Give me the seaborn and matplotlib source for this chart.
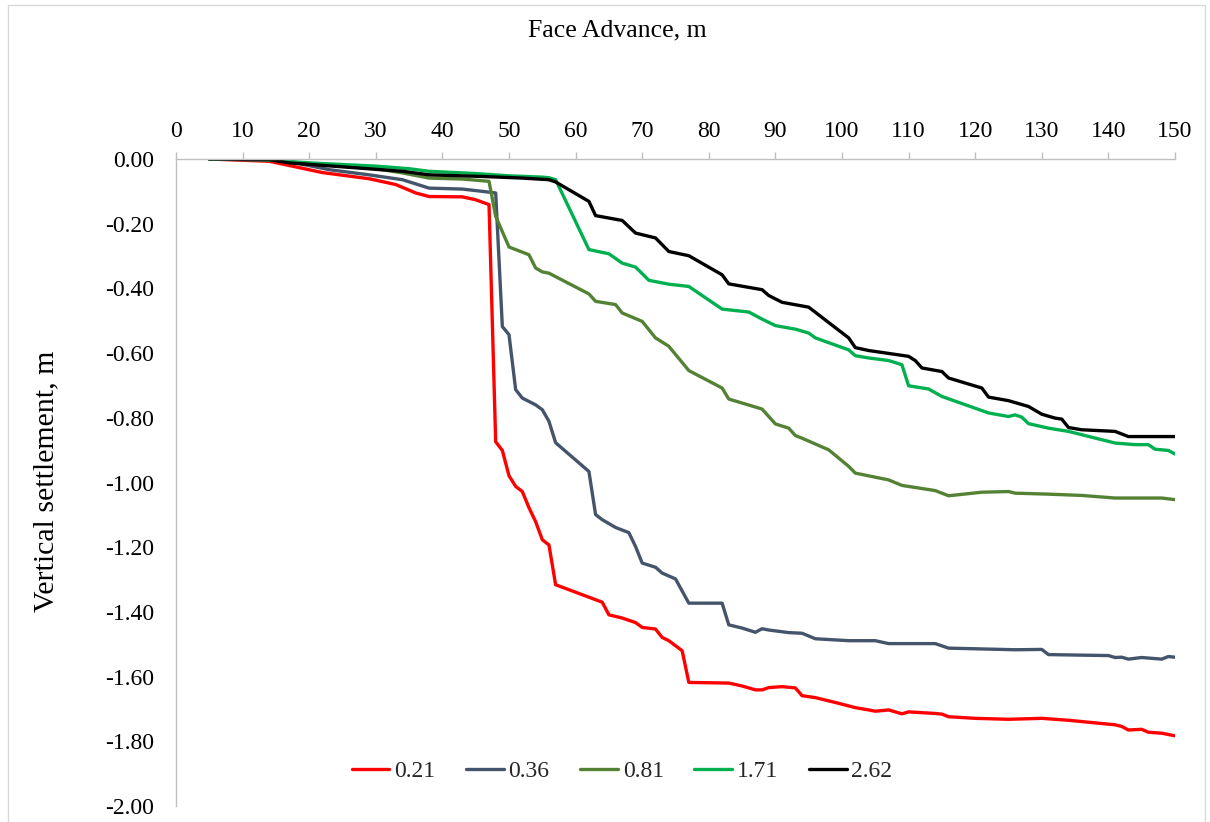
import matplotlib
matplotlib.use("Agg")
import matplotlib.pyplot as plt
from matplotlib.lines import Line2D
from matplotlib.patches import Rectangle
import numpy as np
import pandas as pd
import seaborn as sns

# ---- settlement records (face advance in m, vertical settlement in m) ----
labels = ["0.21", "0.36", "0.81", "1.71", "2.62"]
colors = ["#FF0000", "#44546A", "#548235", "#00B050", "#000000"]

x_021 = [5, 14, 22, 29, 33, 36, 38, 43, 45, 47,
         48, 49, 50, 51, 52, 53, 54, 55, 56, 57,
         64, 65, 67, 69, 70, 72, 73, 74, 76, 77,
         83, 85, 87, 88, 89, 91, 93, 94, 95, 96,
         99, 102, 104, 105, 107, 109, 110, 114, 115, 116,
         120, 125, 130, 134, 141, 142, 143, 145, 146, 148, 150]
y_021 = [0, -0.007, -0.042, -0.061, -0.079, -0.105, -0.116, -0.117, -0.126, -0.141,
         -0.874, -0.901, -0.979, -1.012, -1.028, -1.078, -1.121, -1.177, -1.193, -1.316,
         -1.370, -1.409, -1.419, -1.433, -1.448, -1.453, -1.479, -1.489, -1.520, -1.618,
         -1.620, -1.629, -1.641, -1.641, -1.634, -1.631, -1.635, -1.659, -1.662, -1.665,
         -1.680, -1.696, -1.703, -1.707, -1.703, -1.715, -1.709, -1.714, -1.716, -1.724,
         -1.729, -1.732, -1.729, -1.735, -1.749, -1.754, -1.765, -1.763, -1.772, -1.775, -1.783]

x_036 = [5, 16, 23, 29, 34, 38, 43, 46, 48, 49,
         50, 51, 52, 54, 55, 56, 57, 62, 63, 64,
         66, 68, 69, 70, 72, 73, 75, 77, 82, 83,
         85, 87, 88, 89, 92, 94, 96, 101, 105, 107,
         114, 116, 122, 126, 130, 131, 140, 141, 142, 143,
         145, 148, 149, 150]
y_036 = [0, -0.004, -0.033, -0.049, -0.064, -0.090, -0.093, -0.100, -0.105, -0.518,
         -0.543, -0.713, -0.739, -0.760, -0.775, -0.811, -0.877, -0.966, -1.099, -1.115,
         -1.139, -1.155, -1.198, -1.249, -1.262, -1.280, -1.298, -1.373, -1.373, -1.440,
         -1.450, -1.463, -1.452, -1.456, -1.464, -1.466, -1.483, -1.489, -1.489, -1.498,
         -1.498, -1.512, -1.515, -1.517, -1.516, -1.532, -1.535, -1.541, -1.540, -1.546,
         -1.541, -1.546, -1.538, -1.540]

x_081 = [5, 14, 20, 30, 34, 38, 43, 47, 48, 50,
         53, 54, 55, 56, 62, 63, 66, 67, 70, 72,
         74, 77, 82, 83, 88, 90, 92, 93, 94, 98,
         101, 102, 107, 109, 114, 116, 121, 125, 126, 131,
         136, 141, 148, 150]
y_081 = [0, -0.002, -0.015, -0.030, -0.043, -0.059, -0.062, -0.069, -0.177, -0.272,
         -0.296, -0.337, -0.349, -0.353, -0.417, -0.440, -0.450, -0.476, -0.502, -0.553,
         -0.579, -0.654, -0.708, -0.742, -0.773, -0.819, -0.832, -0.855, -0.863, -0.899,
         -0.950, -0.971, -0.992, -1.009, -1.025, -1.041, -1.030, -1.028, -1.033, -1.036,
         -1.040, -1.048, -1.048, -1.053]

x_171 = [5, 13, 20, 30, 35, 38, 45, 50, 55, 56,
         57, 62, 65, 67, 69, 71, 74, 77, 82, 86,
         88, 90, 93, 95, 96, 101, 102, 104, 107, 109,
         110, 113, 115, 122, 125, 126, 127, 128, 131, 134,
         141, 144, 146, 147, 149, 150]
y_171 = [0, -0.002, -0.012, -0.022, -0.030, -0.038, -0.045, -0.052, -0.056, -0.058,
         -0.064, -0.280, -0.293, -0.322, -0.334, -0.375, -0.387, -0.394, -0.464, -0.473,
         -0.495, -0.515, -0.526, -0.538, -0.553, -0.590, -0.608, -0.615, -0.623, -0.636,
         -0.701, -0.711, -0.734, -0.785, -0.796, -0.791, -0.798, -0.818, -0.832, -0.842,
         -0.878, -0.883, -0.883, -0.897, -0.901, -0.912]

x_262 = [5, 14, 17, 34, 38, 46, 52, 56, 57, 62,
         63, 67, 69, 72, 74, 77, 82, 83, 88, 89,
         91, 95, 101, 102, 104, 110, 111, 112, 115, 116,
         121, 122, 125, 128, 130, 132, 133, 134, 136, 141,
         143, 145, 150]
y_262 = [0, -0.002, -0.012, -0.038, -0.049, -0.054, -0.059, -0.064, -0.071, -0.131,
         -0.175, -0.190, -0.229, -0.244, -0.286, -0.299, -0.358, -0.386, -0.404, -0.422,
         -0.443, -0.458, -0.553, -0.583, -0.592, -0.610, -0.623, -0.646, -0.657, -0.677,
         -0.708, -0.736, -0.747, -0.765, -0.789, -0.801, -0.804, -0.830, -0.837, -0.842,
         -0.858, -0.858, -0.858]

x_ticks = list(range(0, 151, 10))
y_ticks = [-2.0, -1.8, -1.6, -1.4, -1.2, -1.0, -0.8, -0.6, -0.4, -0.2, 0.0]

# ---- tidy table ----
series = [(labels[0], x_021, y_021), (labels[1], x_036, y_036),
          (labels[2], x_081, y_081), (labels[3], x_171, y_171),
          (labels[4], x_262, y_262)]
frames = [pd.DataFrame({"advance": xs, "settlement": ys, "ratio": name})
          for name, xs, ys in series]
df = pd.concat(frames, ignore_index=True)

# ---- style ----
sns.set_theme(style="white")
plt.rcParams["font.family"] = ["Liberation Serif", "DejaVu Serif"]
plt.rcParams["axes.unicode_minus"] = False

grey = "#BFBFBF"
fig = plt.figure(figsize=(12.10, 8.22), dpi=100)
ax = fig.add_axes([176 / 1210, 1 - 806 / 822, (1175 - 176) / 1210, (806 - 159) / 822])

palette = dict(zip(labels, colors))
sns.lineplot(data=df, x="advance", y="settlement", hue="ratio", hue_order=labels,
             palette=palette, estimator=None, sort=False, linewidth=2.4,
             legend=False, ax=ax)

ax.set_xlim(0, 150)
ax.set_ylim(-2.0, 0.0)
ax.set_xticks(x_ticks)
ax.set_yticks(y_ticks)
ax.set_yticklabels([f"{v:.2f}" for v in y_ticks])

# x axis drawn along the top (settlement = 0)
ax.xaxis.tick_top()
ax.xaxis.set_label_position("top")
for side in ("right", "bottom"):
    ax.spines[side].set_visible(False)
for side in ("left", "top"):
    ax.spines[side].set_color(grey)
    ax.spines[side].set_linewidth(1.0)

ax.tick_params(axis="x", which="major", direction="out", length=5, width=1,
               color=grey, pad=7, labelsize=17, labelcolor="black")
ax.tick_params(axis="y", which="major", direction="out", length=5, width=1,
               color=grey, pad=11, labelsize=17, labelcolor="black")

ax.set_xlabel("Face Advance, m", fontsize=18.5, color="black")
ax.xaxis.set_label_coords((617 - 176) / 999, (806 - 30) / 647)
ax.xaxis.label.set_va("center")
ax.set_ylabel("Vertical settlement, m", fontsize=21.5, color="black")
ax.yaxis.set_label_coords((46 - 176) / 999, (806 - 481) / 647)
ax.yaxis.label.set_va("center")
ax.grid(False)

# legend row
handles = [Line2D([0], [0], color=c, lw=2.4, solid_capstyle="round") for c in colors]
fig.legend(handles, labels, loc="center", bbox_to_anchor=(622 / 1210, 1 - 771 / 822),
           ncol=5, frameon=False, fontsize=17, handlelength=1.6, handletextpad=0.2,
           columnspacing=1.3)

# chart-area border
fig.patches.append(Rectangle((8 / 1210, -0.05), (1205 - 8) / 1210, 1.05 - 5 / 822,
                             transform=fig.transFigure, fill=False,
                             edgecolor="#D9D9D9", linewidth=1.0))

fig.savefig("out.png", dpi=100)
